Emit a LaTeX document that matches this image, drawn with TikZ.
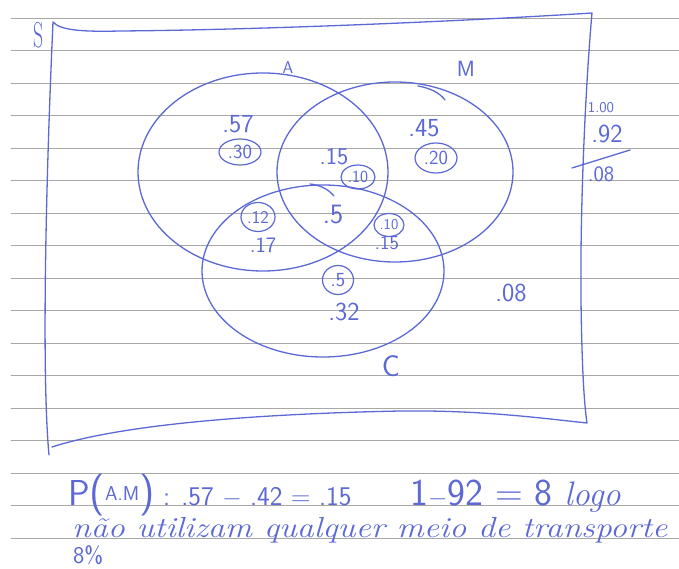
\documentclass[tikz,border=0pt]{standalone}
\usepackage{tikz}
\usetikzlibrary{shapes.geometric}
\definecolor{ink}{RGB}{92,104,212}
\definecolor{ruling}{RGB}{168,168,168}

\begin{document}
\begin{tikzpicture}[x=1pt, y=-1pt, line cap=round, line join=round,
        pen/.style={draw=ink, line width=1.3pt},
        num/.style={text=ink, inner sep=0pt, font=\sffamily\fontsize{26}{26}\selectfont},
        small/.style={num, font=\sffamily\fontsize{22}{22}\selectfont},
        circled/.style={ellipse, draw=ink, line width=1.2pt, inner sep=0pt, text=ink,
            font=\sffamily\fontsize{20}{20}\selectfont},
        hand/.style={text=ink, inner sep=0pt, anchor=base west}]
        \useasboundingbox (0,0) rectangle (679,569);

        % Ruled paper
        \foreach \k in {0,...,16}
            \draw[ruling, line width=0.9pt] (11,{18+32.5*\k}) -- (679,{18+32.5*\k});

        % Sample space S
        \draw[pen] (49,455) .. controls (42,380) and (45,200) .. (53,22)
            .. controls (60,30) and (80,32) .. (120,31)
            .. controls (250,30) and (450,22) .. (592,13)
            .. controls (586,80) and (580,200) .. (581,300)
            .. controls (582,380) and (585,410) .. (587,423)
            .. controls (540,418) and (480,410) .. (400,411)
            .. controls (250,414) and (120,425) .. (52,447);
        \node[text=ink, inner sep=0pt] (labS) at (39,35) {\scalebox{0.55}[1]{\fontsize{36}{36}\selectfont S}};

        % Sets A, M and C
        \draw[pen] (263,172) ellipse (125pt and 99pt);
        \draw[pen] (395,172) ellipse (118pt and 90pt);
        \draw[pen] (323,271) ellipse (121pt and 86pt);
        \draw[pen] (418,86) .. controls (430,88) and (440,93) .. (445,100);
        \draw[pen] (310,184) .. controls (320,185) and (328,189) .. (334,196);
        \node[text=ink, font=\sffamily\fontsize{17}{17}\selectfont] (labA) at (288,68) {A};
        \node[text=ink, font=\sffamily\fontsize{22}{22}\selectfont] (labM) at (466,69) {M};
        \node[text=ink, font=\sffamily\fontsize{30}{30}\selectfont] (labC) at (391,366) {C};

        % Values in each region
        \node[num] (a) at (238,124) {.57};
        \node[circled, minimum width=42pt, minimum height=26pt] (a1) at (240,152) {.30};
        \node[num, font=\sffamily\fontsize{24}{24}\selectfont] (am) at (334,157) {.15};
        \node[circled, minimum width=34pt, minimum height=24pt,
            font=\sffamily\fontsize{17}{17}\selectfont] (am1) at (358,177) {.10};
        \node[num] (m) at (424,128) {.45};
        \node[circled, minimum width=42pt, minimum height=30pt] (m1) at (436,158) {.20};
        \node[circled, minimum width=34pt, minimum height=29pt,
            font=\sffamily\fontsize{18}{18}\selectfont] (ac1) at (258,217) {.12};
        \node[small] (ac) at (263,245) {.17};
        \node[num, font=\sffamily\fontsize{28}{28}\selectfont] (amc) at (333,215) {.5};
        \node[circled, minimum width=30pt, minimum height=23pt,
            font=\sffamily\fontsize{15}{15}\selectfont] (mc1) at (389,225) {.10};
        \node[small, font=\sffamily\fontsize{20}{20}\selectfont] (mc) at (387,243) {.15};
        \node[circled, minimum width=31pt, minimum height=29pt] (c1) at (338,280) {.5};
        \node[num] (c) at (344,312) {.32};
        \node[num] (none) at (511,293) {.08};

        % Side sum
        \node[num, font=\sffamily\fontsize{15}{15}\selectfont] (one) at (601,108) {1.00};
        \node[num] (sum) at (607,134) {.92};
        \draw[pen] (572,168) -- (630,150);
        \node[small] (rest) at (601,174) {.08};

        % Working below the diagram
        \node[hand] (line1) at (68,505) {\sffamily\fontsize{36}{36}\selectfont P%
            \fontsize{42}{42}\selectfont(\raisebox{5pt}{\fontsize{20}{20}\selectfont A.M}%
            \fontsize{42}{42}\selectfont)\fontsize{27}{27}\selectfont\ : .57 $-$ .42 = .15};
        \node[hand, font=\sffamily\fontsize{38}{38}\selectfont] (line1b) at (410,505)
            {1$-$92 = 8 {\rmfamily\itshape\fontsize{34}{34}\selectfont logo}};
        \node[hand] (line2) at (72,537)
            {\scalebox{1.17}[1]{\itshape\fontsize{29}{29}\selectfont não utilizam qualquer meio de transporte}};
        \node[hand, font=\sffamily\fontsize{24}{24}\selectfont] (line3) at (73,563) {8\%};
    \end{tikzpicture}
\end{document}
